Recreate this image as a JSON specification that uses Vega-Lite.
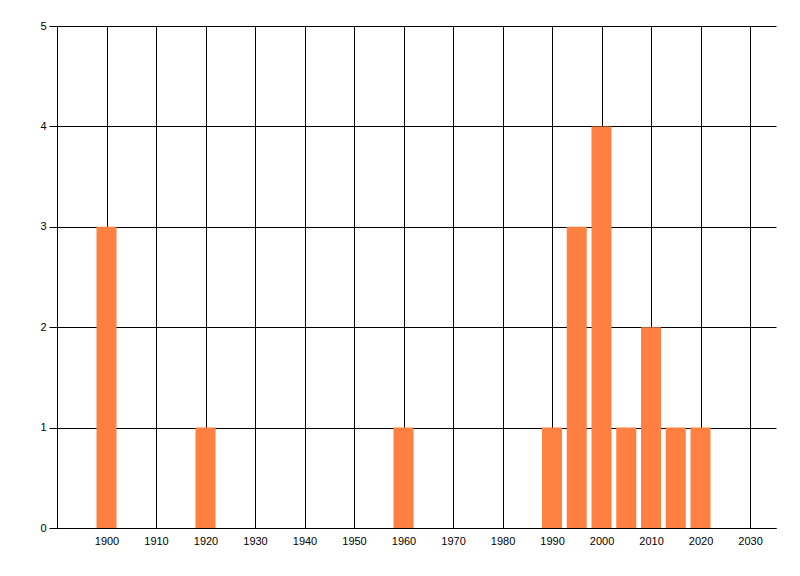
{
  "$schema": "https://vega.github.io/schema/vega-lite/v6.json",
  "width": 719,
  "height": 502,
  "autosize": {"type": "none"},
  "padding": {"left": 57, "top": 26, "right": 24, "bottom": 48},
  "background": "white",
  "data": {
    "values": [
      {"year": 1900, "count": 3},
      {"year": 1920, "count": 1},
      {"year": 1960, "count": 1},
      {"year": 1990, "count": 1},
      {"year": 1995, "count": 3},
      {"year": 2000, "count": 4},
      {"year": 2005, "count": 1},
      {"year": 2010, "count": 2},
      {"year": 2015, "count": 1},
      {"year": 2020, "count": 1}
    ]
  },
  "mark": {"type": "bar", "size": 20, "color": "#FF8040"},
  "encoding": {
    "x": {
      "field": "year",
      "type": "quantitative",
      "title": null,
      "scale": {"domain": [1890, 2035.25], "nice": false, "zero": false, "padding": 0},
      "axis": {
        "values": [1900, 1910, 1920, 1930, 1940, 1950, 1960, 1970, 1980, 1990, 2000, 2010, 2020, 2030],
        "format": "d",
        "grid": true,
        "gridColor": "black",
        "gridOpacity": 1,
        "ticks": false,
        "domainColor": "black",
        "labelPadding": 7,
        "labelColor": "black",
        "labelFont": "Liberation Sans",
        "labelFontSize": 11
      }
    },
    "y": {
      "field": "count",
      "type": "quantitative",
      "title": null,
      "scale": {"domain": [0, 5], "nice": false, "padding": 0},
      "axis": {
        "values": [0, 1, 2, 3, 4, 5],
        "grid": true,
        "gridColor": "black",
        "gridOpacity": 1,
        "tickColor": "black",
        "tickSize": 8,
        "domainColor": "black",
        "labelPadding": 3,
        "labelColor": "black",
        "labelFont": "Liberation Sans",
        "labelFontSize": 11
      }
    }
  },
  "config": {"view": {"stroke": null}}
}
